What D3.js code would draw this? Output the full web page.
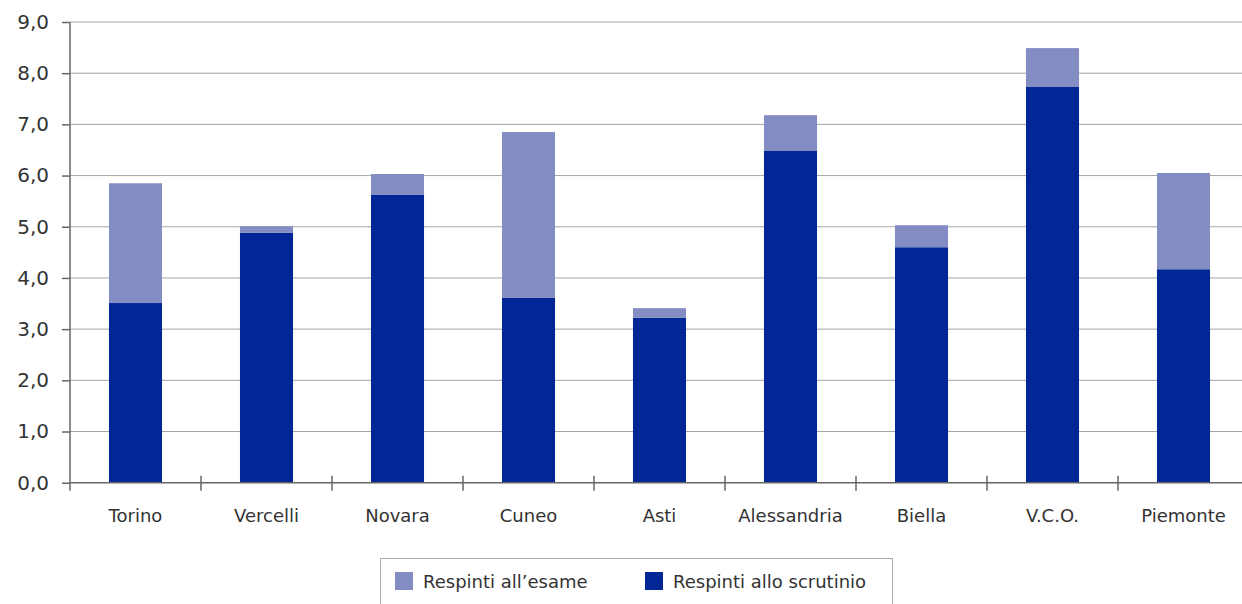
<!DOCTYPE html>
<html>
<head>
<meta charset="utf-8">
<script src="https://cdn.jsdelivr.net/npm/d3@7"></script>
<style>
  html, body { margin: 0; padding: 0; background: #fff; }
  svg { display: block; }
  text { font-family: "DejaVu Sans", "Liberation Sans", Arial, sans-serif; fill: #333; }
</style>
</head>
<body>
<svg id="chart" width="1242" height="604"></svg>
<script>
const categories = ["Torino", "Vercelli", "Novara", "Cuneo", "Asti", "Alessandria", "Biella", "V.C.O.", "Piemonte"];
const scrutinio = [3.51, 4.88, 5.63, 3.61, 3.22, 6.48, 4.60, 7.73, 4.17];
const esame = [2.34, 0.13, 0.40, 3.24, 0.19, 0.70, 0.43, 0.76, 1.88];
const yTicks = [0, 1, 2, 3, 4, 5, 6, 7, 8, 9];
const seriesNames = ["Respinti all\u2019esame", "Respinti allo scrutinio"];
const colors = { esame: "#838DC3", scrutinio: "#002795" };

const svg = d3.select("#chart");
const x0 = 70, x1 = 1249, yBottom = 482.7, yTop = 22;

const x = d3.scaleBand().domain(categories).range([x0, x1]).paddingInner(0.595).paddingOuter(0.2975);
const y = d3.scaleLinear().domain([0, 9]).range([yBottom, yTop]);
const fmt = v => d3.format(".1f")(v).replace(".", ",");

// gridlines
svg.append("g").selectAll("line").data(yTicks.filter(t => t > 0)).join("line")
  .attr("x1", x0).attr("x2", 1242)
  .attr("y1", d => y(d)).attr("y2", d => y(d))
  .attr("stroke", "#a6a6a6").attr("stroke-width", 1);

// stacked data
const rows = categories.map((c, i) => ({ cat: c, scrutinio: scrutinio[i], esame: esame[i] }));
const stack = d3.stack().keys(["scrutinio", "esame"])(rows);

svg.append("g").selectAll("g").data(stack).join("g")
  .attr("fill", d => colors[d.key])
  .selectAll("rect").data(d => d).join("rect")
  .attr("x", d => x(d.data.cat))
  .attr("width", x.bandwidth())
  .attr("y", d => y(d[1]))
  .attr("height", d => y(d[0]) - y(d[1]));

// y axis
const yAxis = d3.axisLeft(y).tickValues(yTicks).tickFormat(fmt).tickSize(8).tickPadding(13);
const gy = svg.append("g").attr("transform", `translate(${x0},0)`).call(yAxis);
gy.select(".domain").attr("d", `M0,${yTop}V${yBottom + 8}`).attr("stroke", "#666").attr("stroke-width", 1.5);
gy.selectAll(".tick line").attr("stroke", "#666").attr("stroke-width", 1.5);
gy.selectAll(".tick text").attr("font-size", 20).attr("fill", "#333")
  .attr("font-family", "DejaVu Sans, Liberation Sans, Arial, sans-serif");

// x axis baseline
svg.append("line").attr("x1", x0).attr("x2", 1242).attr("y1", yBottom).attr("y2", yBottom)
  .attr("stroke", "#666").attr("stroke-width", 1.5);

// category separators
const step = x.step();
const seps = categories.slice(1).map((c, i) => x0 + step * (i + 1));
svg.append("g").selectAll("line").data(seps).join("line")
  .attr("x1", d => d).attr("x2", d => d)
  .attr("y1", yBottom - 7).attr("y2", yBottom + 8)
  .attr("stroke", "#666").attr("stroke-width", 1.5);

// category labels
svg.append("g").selectAll("text").data(categories).join("text")
  .attr("x", d => x(d) + x.bandwidth() / 2)
  .attr("y", 522)
  .attr("text-anchor", "middle")
  .attr("font-size", 18)
  .text(d => d);

// legend
const lg = svg.append("g");
lg.append("rect").attr("x", 380.5).attr("y", 558.5).attr("width", 512).attr("height", 60)
  .attr("fill", "none").attr("stroke", "#aaa").attr("stroke-width", 1);
const legendItems = [
  { name: seriesNames[0], color: colors.esame, sx: 395, tx: 423 },
  { name: seriesNames[1], color: colors.scrutinio, sx: 645, tx: 673 }
];
legendItems.forEach(it => {
  lg.append("rect").attr("x", it.sx).attr("y", 572).attr("width", 18).attr("height", 18).attr("fill", it.color);
  lg.append("text").attr("x", it.tx).attr("y", 588).attr("font-size", 18).text(it.name);
});
</script>
</body>
</html>
